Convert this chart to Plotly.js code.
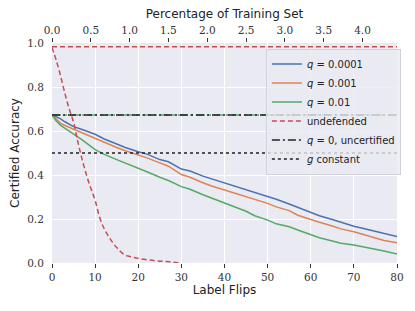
<!DOCTYPE html>
<html>
<head>
<meta charset="utf-8">
<script src="https://cdn.plot.ly/plotly-3.0.1.min.js"></script>
<style>html,body{margin:0;padding:0;background:#fff;}#chart{width:415px;height:311px;}</style>
</head>
<body>
<div id="chart"></div>
<script>
// Data
const flipsQ = [0,1,2,3,5,7,10,12,15,17,20,22,25,27,30,32,35,37,40,42,45,47,50,52,55,57,60,62,65,67,70,72,75,77,80];
const accQ0001 = [0.673,0.665,0.655,0.642,0.62,0.607,0.585,0.565,0.54,0.525,0.506,0.495,0.47,0.46,0.427,0.418,0.395,0.383,0.362,0.35,0.335,0.32,0.305,0.29,0.268,0.252,0.228,0.215,0.198,0.185,0.167,0.158,0.145,0.135,0.12];
const accQ001  = [0.673,0.655,0.635,0.625,0.608,0.59,0.567,0.55,0.525,0.51,0.491,0.478,0.455,0.44,0.402,0.39,0.365,0.35,0.332,0.32,0.3,0.29,0.271,0.255,0.238,0.217,0.197,0.185,0.168,0.155,0.142,0.13,0.115,0.102,0.092];
const accQ01   = [0.673,0.645,0.625,0.612,0.585,0.56,0.515,0.495,0.47,0.455,0.43,0.415,0.39,0.375,0.347,0.335,0.31,0.295,0.271,0.258,0.235,0.215,0.195,0.178,0.165,0.15,0.127,0.115,0.1,0.09,0.082,0.075,0.065,0.055,0.041];
const flipsUndef = [0,1,2,3,4,5,6,7,8,9,10,11,12,13,14,15,16,17,18,19,20,22,24,26,28,30];
const accUndef = [0.98,0.92,0.85,0.77,0.70,0.64,0.55,0.47,0.40,0.34,0.285,0.21,0.16,0.125,0.095,0.07,0.05,0.035,0.03,0.025,0.021,0.015,0.01,0.007,0.004,0.0];
const undefClean = 0.983;
const uncertified = 0.673;
const gConstant = 0.5;
const xRange = [0, 80];
const pctMax = 4.444; // percentage of training set at 80 flips
const xTicks = [0,10,20,30,40,50,60,70,80];
const yTicks = [0,0.2,0.4,0.6,0.8,1.0];
const pctTicks = [0,0.5,1.0,1.5,2.0,2.5,3.0,3.5,4.0];

const C = {blue:'#4C72B0', orange:'#DD8452', green:'#55A868', red:'#C44E52'};
const tickFont = {family:'DejaVu Serif', size:10.5, color:'#333'};
const labFont = {family:'DejaVu Sans', size:12, color:'#222'};

const traces = [
  {x:xRange, y:[uncertified,uncertified], mode:'lines', line:{color:C.green, width:1.5, dash:'dashdot'}, showlegend:false, hoverinfo:'skip'},
  {x:flipsQ, y:accQ0001, mode:'lines', name:'<i>q</i> = 0.0001', line:{color:C.blue, width:1.5}},
  {x:flipsQ, y:accQ001, mode:'lines', name:'<i>q</i> = 0.001', line:{color:C.orange, width:1.5}},
  {x:flipsQ, y:accQ01, mode:'lines', name:'<i>q</i> = 0.01', line:{color:C.green, width:1.5}},
  {x:flipsUndef, y:accUndef, mode:'lines', name:'undefended', line:{color:C.red, width:1.5, dash:'5px,3px', shape:'spline'}},
  {x:xRange, y:[undefClean,undefClean], mode:'lines', line:{color:C.red, width:1.5, dash:'5px,3px'}, showlegend:false},
  {x:xRange, y:[uncertified,uncertified], mode:'lines', name:'<i>q</i> = 0, uncertified', line:{color:'#222', width:1.5, dash:'8px,3px,2px,3px'}},
  {x:xRange, y:[gConstant,gConstant], mode:'lines', name:'<i>g</i> constant', line:{color:'#222', width:1.5, dash:'dot'}},
  {x:[0,pctMax], y:[null,null], xaxis:'x2', mode:'lines', showlegend:false, hoverinfo:'skip'}
];

const layout = {
  width:415, height:311,
  margin:{l:52, r:18, t:43, b:48},
  paper_bgcolor:'#fff', plot_bgcolor:'#EAEAF2',
  showlegend:true,
  legend:{x:0.62, y:0.975, xanchor:'left', yanchor:'top', bgcolor:'rgba(234,234,242,0.8)', bordercolor:'#d0d0d8', borderwidth:1, font:{family:'DejaVu Sans', size:10, color:'#222'}, tracegroupgap:0},
  xaxis:{range:xRange, tickvals:xTicks, ticktext:xTicks.map(String), showgrid:true, gridcolor:'#fff', gridwidth:1, zeroline:false, ticks:'outside', ticklen:4, tickcolor:'#333', tickfont:tickFont, showline:false,
    title:{text:'Label Flips', font:labFont, standoff:4}},
  xaxis2:{overlaying:'x', side:'top', range:[0,pctMax], tickvals:pctTicks, ticktext:pctTicks.map(v=>v.toFixed(1)), showgrid:false, zeroline:false, ticks:'outside', ticklen:4, tickcolor:'#333', tickfont:tickFont,
    title:{text:'Percentage of Training Set', font:labFont, standoff:2}},
  yaxis:{range:[0,1], tickvals:yTicks, ticktext:yTicks.map(v=>v.toFixed(1)), showgrid:true, gridcolor:'#fff', gridwidth:1, zeroline:false, ticks:'outside', ticklen:5, tickcolor:'rgba(0,0,0,0)', tickfont:tickFont,
    title:{text:'Certified Accuracy', font:labFont, standoff:4}}
};

Plotly.newPlot('chart', traces, layout, {staticPlot:true, displayModeBar:false});
</script>
</body>
</html>
